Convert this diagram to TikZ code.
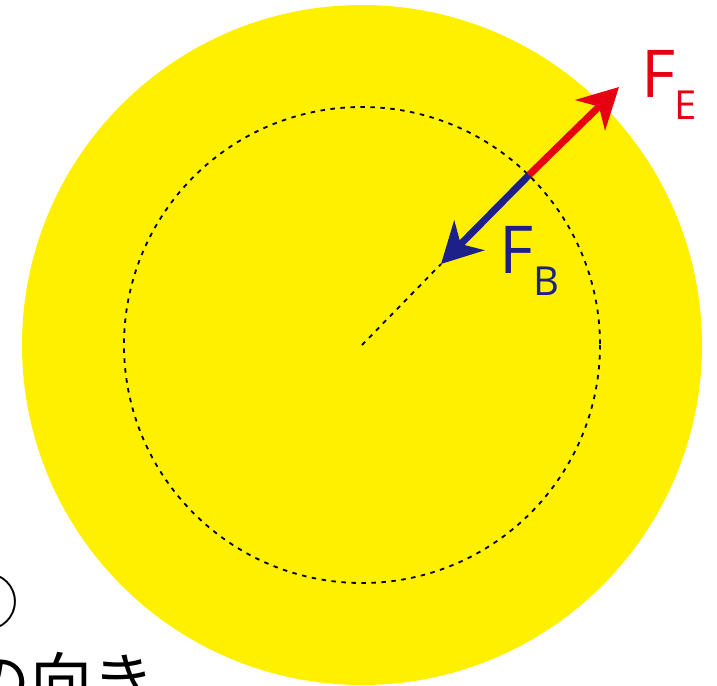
\documentclass[tikz,border=0pt]{standalone}
\usepackage{fontspec}
\setmainfont{Open Sans}
\newfontfamily\jpfont{Noto Sans CJK JP}
\usetikzlibrary{arrows.meta}
\definecolor{sunyellow}{HTML}{FFF000}
\definecolor{forcered}{HTML}{E60012}
\definecolor{forceblue}{HTML}{1D2088}
\tikzset{
  orbit/.style={black, line width=1.8pt, dash pattern=on 4.5pt off 5.5pt},
  force/.style={line width=7pt, -{Stealth[length=40pt,width=42pt,inset=12pt]}},
  biglbl/.style={inner sep=0pt, anchor=base west, font=\fontsize{66}{66}\selectfont},
  sublbl/.style={inner sep=0pt, anchor=base west, font=\fontsize{40}{40}\selectfont},
  jptext/.style={inner sep=0pt, anchor=base west, font=\jpfont\fontsize{62}{62}\selectfont}
}
\begin{document}
\begin{tikzpicture}[x=1pt,y=-1pt]
\useasboundingbox (0,0) rectangle (717,685);
\clip (0,0) rectangle (717,685);
\coordinate (C) at (362,345);
\fill[sunyellow] (C) circle[radius=340];
\draw[orbit] (C) circle[radius=238];
\coordinate (P) at (529,175);
\coordinate (E) at (619,87);
\coordinate (B) at (441,264);
\draw[orbit] (C) -- (B);
\draw[force, forcered] (P) -- (E);
\draw[force, forceblue] (P) -- (B);
\node[biglbl, text=forcered] (fe) at (641,97) {F};
\node[sublbl, text=forcered] (fesub) at (674,119) {E};
\node[biglbl, text=forceblue] (fb) at (499,273) {F};
\node[sublbl, text=forceblue] (fbsub) at (533,295) {B};
\node[jptext] (num) at (-44,625) {①};
\node[jptext] (dir) at (-32,704) {の向き};
\end{tikzpicture}
\end{document}
